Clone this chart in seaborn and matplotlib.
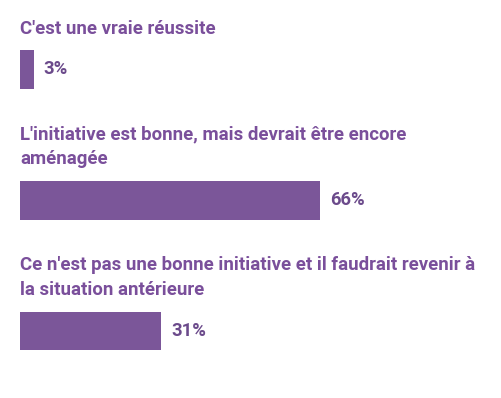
import matplotlib
matplotlib.use("Agg")
import matplotlib.pyplot as plt
import seaborn as sns
import pandas as pd

labels = [
    "C'est une vraie réussite",
    "L'initiative est bonne, mais devrait être encore\naménagée",
    "Ce n'est pas une bonne initiative et il faudrait revenir à\nla situation antérieure",
]
values = [3, 66, 31]
value_labels = ["3%", "66%", "31%"]

BAR_COLOR = "#7b5699"
LABEL_COLOR = "#7a4f9b"
PCT_COLOR = "#6b4a8b"

sns.set_theme(style="white")
plt.rcParams["font.family"] = ["Roboto", "DejaVu Sans"]

W, H, DPI = 501, 398, 100
fig = plt.figure(figsize=(W / DPI, H / DPI), dpi=DPI)
ax = fig.add_axes([0, 0, 1, 1])

df = pd.DataFrame({"cat": [f"c{i}" for i in range(len(values))], "val": values})

px_per_pct = 300 / 66.0
x0_px = 20
unit_px = 130.75
y0_px = 69.5
bar_h = 38.5 / unit_px

sns.barplot(data=df, x="val", y="cat", orient="h", color=BAR_COLOR,
            width=bar_h, saturation=1, ax=ax, edgecolor="none")

ax.set_xlim(-x0_px / px_per_pct, (W - x0_px) / px_per_pct)
ax.set_ylim((H - y0_px) / unit_px, -y0_px / unit_px)
ax.axis("off")

# fit label font size so the widest line spans ~453 px
fig.canvas.draw()
renderer = fig.canvas.get_renderer()
probe = ax.text(0, 0, "Ce n'est pas une bonne initiative et il faudrait revenir à",
                fontsize=12, fontweight="bold")
w = probe.get_window_extent(renderer).width
probe.remove()
label_fs = 12 * 453 / w

for i, (lab, v, vl) in enumerate(zip(labels, values, value_labels)):
    base_y = i - bar_h / 2 - 16.5 / unit_px
    ax.text(0, base_y, lab, fontsize=label_fs, fontweight="bold", color=LABEL_COLOR,
            ha="left", va="baseline", linespacing=1.5)
    ax.text(v + 10 / px_per_pct, i, vl, fontsize=13.2, fontweight="bold",
            color=PCT_COLOR, ha="left", va="center")

fig.savefig("out.png", dpi=DPI, facecolor="white")
